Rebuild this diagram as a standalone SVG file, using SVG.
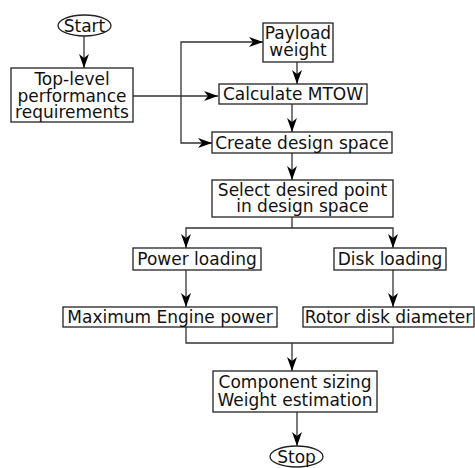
<svg xmlns="http://www.w3.org/2000/svg" width="475" height="468" viewBox="0 0 475 468">
<style>
.n{fill:#fff;stroke:#222;stroke-width:1.3}
.t{font-family:"DejaVu Sans",sans-serif;font-size:17px;fill:#111;text-anchor:middle}
.c{fill:none;stroke:#333;stroke-width:1.3}
</style>
<defs>
<marker id="a" viewBox="0 0 14 10" refX="14" refY="5" markerWidth="14" markerHeight="10" markerUnits="userSpaceOnUse" orient="auto">
<path d="M0,0 L14,5 L0,10 L4,5 Z" fill="#000"/>
</marker>
</defs>
<rect width="475" height="468" fill="#fff"/>
<g id="connectors">
<path class="c" d="M84,36 V68" marker-end="url(#a)"/>
<path class="c" d="M133,96 H218" marker-end="url(#a)"/>
<path class="c" d="M181,96 V42 H263" marker-end="url(#a)"/>
<path class="c" d="M181,96 V143 H212" marker-end="url(#a)"/>
<path class="c" d="M297,62 V84" marker-end="url(#a)"/>
<path class="c" d="M292,104 V132" marker-end="url(#a)"/>
<path class="c" d="M292,153 V180" marker-end="url(#a)"/>
<path class="c" d="M292,217 V228 H186 V248" marker-end="url(#a)"/>
<path class="c" d="M292,228 H393 V248" marker-end="url(#a)"/>
<path class="c" d="M186,270 V307" marker-end="url(#a)"/>
<path class="c" d="M393,270 V307" marker-end="url(#a)"/>
<path class="c" d="M186,327 V343 H393 V327"/>
<path class="c" d="M292,343 V371" marker-end="url(#a)"/>
<path class="c" d="M297,412 V446" marker-end="url(#a)"/>
</g>
<g id="start"><ellipse class="n" cx="84.5" cy="25.5" rx="26.5" ry="10.5"/><text class="t" x="84.5" y="31.5">Start</text></g>
<g id="toplevel"><rect class="n" x="11" y="68" width="122" height="54"/><text class="t" x="72" y="85">Top-level</text><text class="t" x="72" y="101.5">performance</text><text class="t" x="72" y="118">requirements</text></g>
<g id="payload"><rect class="n" x="263" y="23" width="70" height="39"/><text class="t" x="298" y="39">Payload</text><text class="t" x="298" y="55.5">weight</text></g>
<g id="mtow"><rect class="n" x="219" y="84" width="148" height="20"/><text class="t" x="293" y="100">Calculate MTOW</text></g>
<g id="create"><rect class="n" x="212" y="132" width="180" height="21"/><text class="t" x="302" y="148.5">Create design space</text></g>
<g id="select"><rect class="n" x="212" y="180" width="181" height="37"/><text class="t" x="302.5" y="195.5">Select desired point</text><text class="t" x="302.5" y="212">in design space</text></g>
<g id="power"><rect class="n" x="133" y="248" width="128" height="22"/><text class="t" x="197" y="265">Power loading</text></g>
<g id="disk"><rect class="n" x="334" y="248" width="112" height="22"/><text class="t" x="390" y="265">Disk loading</text></g>
<g id="maxpower"><rect class="n" x="63" y="307" width="214" height="20"/><text class="t" x="170" y="323">Maximum Engine power</text></g>
<g id="rotor"><rect class="n" x="303" y="307" width="171" height="20"/><text class="t" x="388.5" y="323">Rotor disk diameter</text></g>
<g id="component"><rect class="n" x="213" y="371" width="164" height="41"/><text class="t" x="295" y="387.5">Component sizing</text><text class="t" x="295" y="405.5">Weight estimation</text></g>
<g id="stop"><ellipse class="n" cx="296.5" cy="456.5" rx="26.5" ry="10.5"/><text class="t" x="296.5" y="462.5">Stop</text></g>
</svg>
